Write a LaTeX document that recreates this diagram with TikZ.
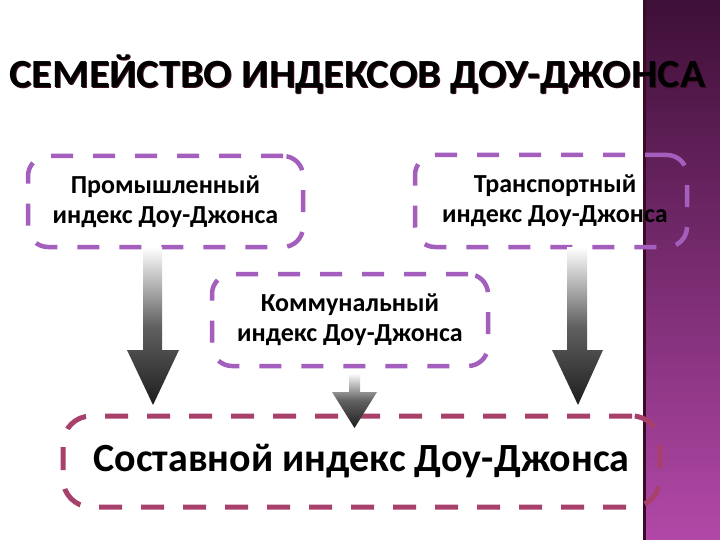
\documentclass[tikz,border=0pt]{standalone}
\usepackage{fontspec}
\setmainfont{Carlito}
\definecolor{boxpurple}{HTML}{A45EBE}
\definecolor{boxrose}{HTML}{A8406C}
\definecolor{stripTop}{HTML}{3E0F37}
\definecolor{stripBot}{HTML}{B248A8}
\definecolor{arrowDark}{HTML}{1E1E1E}
\definecolor{titleShadow}{HTML}{3A0C24}
\newcommand{\titletext}{\resizebox{696pt}{\height}{СЕМЕЙСТВО ИНДЕКСОВ ДОУ-ДЖОНСА}}
\begin{document}
\begin{tikzpicture}[x=1pt,y=-1pt,
  pbox/.style={draw=boxpurple, line width=4.5pt, dash pattern=on 22pt off 20pt,
    rounded corners=20pt, align=center, inner sep=0pt,
    font=\fontsize{26}{30}\selectfont\bfseries},
  rbox/.style={draw=boxrose, line width=5pt, dash pattern=on 23pt off 19pt,
    rounded corners=28pt, align=center, inner sep=0pt,
    font=\fontsize{40}{46}\selectfont\bfseries},
  blockarr/.style={top color=white, bottom color=arrowDark, middle color=black!62},
  titlefont/.style={font=\fontsize{40}{46}\selectfont\bfseries, inner sep=0pt, anchor=base}
]
\useasboundingbox (0,0) rectangle (720,540);
\fill[white] (0,0) rectangle (720,540);
% right strip
\shade[top color=stripTop, bottom color=stripBot] (643,0) rectangle (720,540);
\draw[titleShadow, line width=3pt] (644.5,0) -- (644.5,540);

% title
\node[titlefont, text=titleShadow] (titlesh) at (358.5,88.5) {\titletext};
\node[titlefont, text=black] (title) at (357.5,87.5) {\titletext};

% boxes
\node[pbox, minimum width=275pt, minimum height=91pt] (b1) at (165.5,201.5)
  {Промышленный\\индекс Доу-Джонса};
\node[pbox, minimum width=272pt, minimum height=92pt] (b2) at (551,201)
  {\hspace*{8pt}Транспортный\\\hspace*{8pt}индекс Доу-Джонса};
\node[pbox, minimum width=276pt, minimum height=92pt] (b3) at (350,320)
  {Коммунальный\\индекс Доу-Джонса};
\node[rbox, minimum width=597pt, minimum height=91pt] (b4) at (361.5,461.5)
  {Составной индекс Доу-Джонса};

% block arrows
\shade[blockarr] (143,247) -- (143,350) -- (127,350) -- (153,405) -- (179,350)
  -- (162,350) -- (162,247) -- cycle;
\shade[blockarr] (567,247) -- (567,350) -- (552,350) -- (578,405) -- (603,350)
  -- (587,350) -- (587,247) -- cycle;
\shade[blockarr] (349,373) -- (349,392) -- (332,392) -- (354.5,428) -- (377,392)
  -- (360,392) -- (360,373) -- cycle;
\end{tikzpicture}
\end{document}
